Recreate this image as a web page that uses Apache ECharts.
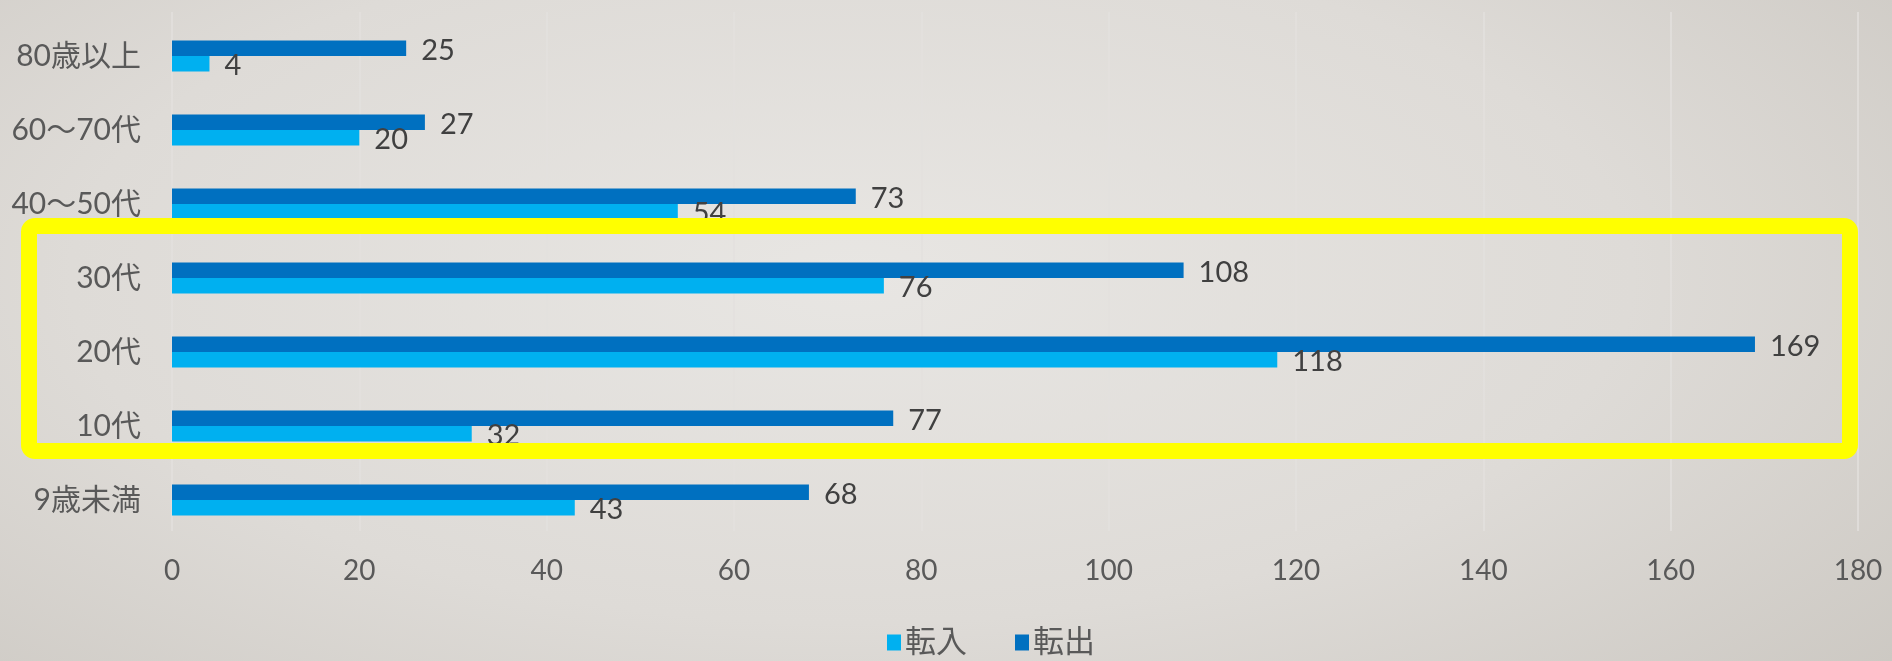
<!DOCTYPE html>
<html>
<head>
<meta charset="utf-8">
<script src="https://cdn.jsdelivr.net/npm/echarts@6/dist/echarts.min.js"></script>
<style>
html,body{margin:0;padding:0;}
#chart{width:1892px;height:661px;background:radial-gradient(ellipse 75% 95% at 45% 42%, #e8e6e3 0%, #dedbd7 55%, #cbc7c1 100%);}
</style>
</head>
<body>
<div id="chart"></div>
<script>
const categories = ['9歳未満', '10代', '20代', '30代', '40〜50代', '60〜70代', '80歳以上'];
const tennyu = [43, 32, 118, 76, 54, 20, 4];      // 転入
const tenshutsu = [68, 77, 169, 108, 73, 27, 25];  // 転出
const xTicks = {min: 0, max: 180, interval: 20};

const fontLatin = 'Lato, "Noto Sans CJK JP", sans-serif';
const chart = echarts.init(document.getElementById('chart'), null, {renderer: 'canvas'});
const labelStyle = {
  show: true, position: 'right', distance: 15, offset: [0, 2],
  color: '#404040', fontSize: 29, fontFamily: fontLatin
};
chart.setOption({
  backgroundColor: 'transparent',
  animation: false,
  legend: {
    data: ['転入', '転出'],
    left: 882, top: 622,
    itemWidth: 14, itemHeight: 16, itemGap: 48,
    icon: 'rect',
    textStyle: {color: '#595959', fontSize: 31, fontFamily: fontLatin, padding: [0, 0, 0, -1]}
  },
  grid: [
    {left: 172, right: 34, top: 19, bottom: 124, containLabel: false},
    {left: 172, right: 34, top: 12, bottom: 130, containLabel: false}
  ],
  xAxis: [
    {
      type: 'value', gridIndex: 0, min: xTicks.min, max: xTicks.max, interval: xTicks.interval,
      axisLine: {show: false}, axisTick: {show: false}, splitLine: {show: false},
      axisLabel: {color: '#595959', fontSize: 28, fontFamily: fontLatin, margin: 20}
    },
    {
      type: 'value', gridIndex: 1, min: xTicks.min, max: xTicks.max, interval: xTicks.interval,
      axisLine: {show: false}, axisTick: {show: false}, axisLabel: {show: false},
      splitLine: {show: true, lineStyle: {color: '#e3e1de', width: 1.5}}
    }
  ],
  yAxis: [
    {
      type: 'category', gridIndex: 0, data: categories,
      axisLine: {show: false}, axisTick: {show: false},
      axisLabel: {color: '#595959', fontSize: 30, fontFamily: fontLatin, margin: 31}
    },
    {
      type: 'category', gridIndex: 1, data: categories,
      axisLine: {show: false}, axisTick: {show: false}, axisLabel: {show: false}
    }
  ],
  series: [
    {
      name: '転出', type: 'bar', data: tenshutsu, xAxisIndex: 0, yAxisIndex: 0,
      barWidth: 15.5, barGap: '0%',
      itemStyle: {color: '#0070C0'}, label: labelStyle
    },
    {
      name: '転入', type: 'bar', data: tennyu, xAxisIndex: 0, yAxisIndex: 0,
      barWidth: 15.5, barGap: '0%',
      itemStyle: {color: '#00B0F0'}, label: labelStyle
    }
  ],
  graphic: [
    {
      type: 'rect', z: 100,
      shape: {x: 29, y: 226, width: 1821, height: 225, r: 6},
      style: {fill: 'none', stroke: '#FFFF00', lineWidth: 16}
    }
  ]
});
</script>
</body>
</html>
